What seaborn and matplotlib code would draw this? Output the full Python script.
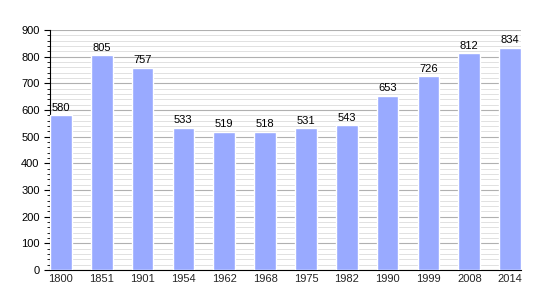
import matplotlib
matplotlib.use("Agg")
import matplotlib.pyplot as plt
import seaborn as sns
import pandas as pd
from matplotlib.ticker import MultipleLocator

years = ["1800", "1851", "1901", "1954", "1962", "1968", "1975", "1982", "1990", "1999", "2008", "2014"]
population = [580, 805, 757, 533, 519, 518, 531, 543, 653, 726, 812, 834]

df = pd.DataFrame({"year": years, "pop": population})

sns.set_style("white")
plt.rcParams["font.family"] = ["Liberation Sans", "DejaVu Sans"]

fig = plt.figure(figsize=(5.5, 3), dpi=100)
ax = fig.add_axes([50/550, 30/300, 471/550, 240/300])

sns.barplot(data=df, x="year", y="pop", color="#99aaff", saturation=1, width=0.53, ax=ax, zorder=3)

for i, v in enumerate(population):
    ax.text(i, v + 10, str(v), ha="center", va="bottom", fontsize=8, color="black", zorder=4)

ax.set_xlim(-0.265, len(years) - 1 + 0.265)
ax.set_ylim(0, 900)
ax.yaxis.set_major_locator(MultipleLocator(100))
ax.yaxis.set_minor_locator(MultipleLocator(20))
ax.grid(which="major", axis="y", color="#b0b0b0", linewidth=0.8, zorder=0)
ax.grid(which="minor", axis="y", color="#dcdcdc", linewidth=0.6, zorder=0)
ax.set_axisbelow(True)
ax.set_xlabel("")
ax.set_ylabel("")
for s in ["top", "right"]:
    ax.spines[s].set_visible(False)
ax.spines["left"].set_color("black")
ax.spines["bottom"].set_color("black")
ax.tick_params(axis="y", which="major", left=True, length=4, width=0.8, labelsize=8, colors="black")
ax.tick_params(axis="y", which="minor", left=True, length=2, width=0.6, colors="black")
ax.tick_params(axis="x", bottom=False, length=0, labelsize=8, pad=3)

fig.savefig("out.png", dpi=100)
